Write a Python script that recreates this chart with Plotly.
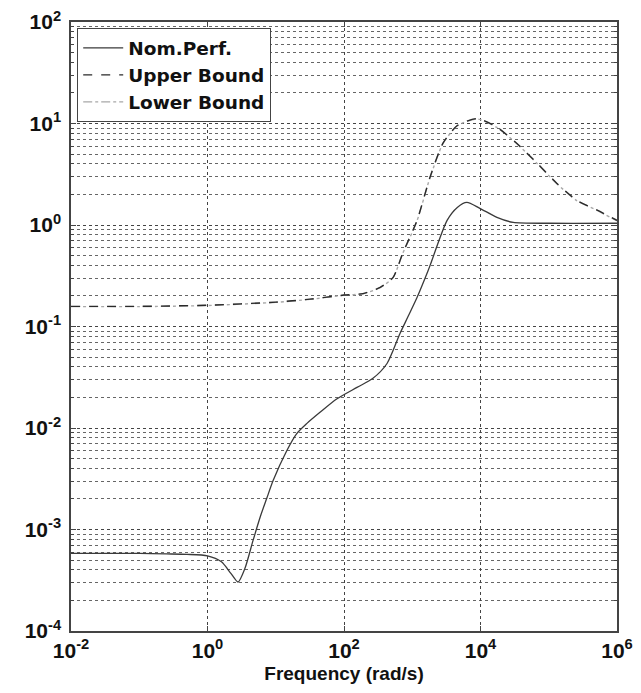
import plotly.graph_objects as go

# Nominal performance
nom_freq = [0.01, 0.1, 0.25, 0.5, 1.0, 1.6, 2.2, 2.8, 3.55, 4.64, 6.03, 7.41, 9.12, 14.5, 20.3,
            28.4, 44.5, 78, 155, 263, 427, 661, 871, 1175, 1550, 1820, 3240, 4570, 6310, 9770,
            17400, 30200, 100000, 1000000]
nom_val = [5.82e-4, 5.82e-4, 5.75e-4, 5.69e-4, 5.5e-4, 4.8e-4, 3.7e-4, 3.04e-4, 4.17e-4, 7.76e-4,
           1.38e-3, 2.04e-3, 3.02e-3, 5.97e-3, 8.8e-3, 0.01104, 0.01426, 0.0193, 0.0251, 0.0307,
           0.0432, 0.0853, 0.126, 0.193, 0.302, 0.398, 1.11, 1.49, 1.67, 1.46, 1.19, 1.06,
           1.04, 1.04]

# Upper bound
ub_freq = [0.01, 0.1, 1, 10, 31.6, 100, 190, 339, 525, 724, 1175, 1820, 2820, 4570, 8910,
           17400, 33900, 67600, 131800, 257000, 513000, 1000000]
ub_val = [0.158, 0.158, 0.162, 0.174, 0.186, 0.204, 0.211, 0.243, 0.305, 0.525, 1.11, 2.95,
          6.4, 9.55, 11.2, 9.2, 6.4, 4.06, 2.57, 1.75, 1.40, 1.11]

# Lower bound
lb_freq = [0.01, 0.1, 1, 10, 31.6, 100, 190, 339, 525, 724, 1175, 1820, 2820, 4570, 8910,
           17400, 33900, 67600, 131800, 257000, 513000, 1000000]
lb_val = [0.157, 0.157, 0.161, 0.173, 0.185, 0.203, 0.210, 0.242, 0.304, 0.523, 1.10, 2.93,
          6.35, 9.5, 11.1, 9.15, 6.35, 4.03, 2.55, 1.74, 1.39, 1.10]

x_ticks = [1e-2, 1e0, 1e2, 1e4, 1e6]
x_labels = ["10<sup>-2</sup>", "10<sup>0</sup>", "10<sup>2</sup>", "10<sup>4</sup>", "10<sup>6</sup>"]
y_ticks = [1e-4, 1e-3, 1e-2, 1e-1, 1e0, 1e1, 1e2]
y_labels = ["10<sup>-4</sup>", "10<sup>-3</sup>", "10<sup>-2</sup>", "10<sup>-1</sup>",
            "10<sup>0</sup>", "10<sup>1</sup>", "10<sup>2</sup>"]

font_family = "Liberation Sans, Arial, sans-serif"
legend_family = "DejaVu Sans, Liberation Sans, sans-serif"

fig = go.Figure()
fig.add_trace(go.Scatter(x=nom_freq, y=nom_val, mode="lines", name="Nom.Perf.", legendrank=1,
                         line=dict(color="#3a3a3a", width=1.3, shape="spline", smoothing=0.7)))
fig.add_trace(go.Scatter(x=lb_freq, y=lb_val, mode="lines", name="Lower Bound", legendrank=3,
                         line=dict(color="#a8a8a8", width=1.4, dash="dashdot", shape="spline", smoothing=0.6)))
fig.add_trace(go.Scatter(x=ub_freq, y=ub_val, mode="lines", name="Upper Bound", legendrank=2,
                         line=dict(color="#2a2a2a", width=1.4, dash="dash", shape="spline", smoothing=0.6)))

# page body has an 8px margin; size the figure so the plot area lands where the reference has it
fig.update_layout(
    width=633, height=685,
    margin=dict(l=63, r=24, t=14, b=62, autoexpand=False),
    paper_bgcolor="white", plot_bgcolor="white",
    font=dict(family=font_family, size=20, color="#111", weight="bold"),
    showlegend=True,
    legend=dict(x=0.011, y=0.99, xanchor="left", yanchor="top",
                bgcolor="white", bordercolor="#444", borderwidth=1.2,
                font=dict(size=18.5, family=legend_family, color="#111", weight="bold"),
                traceorder="normal", itemwidth=40, tracegroupgap=0),
)
fig.update_xaxes(
    type="log", range=[-2, 6],
    tickvals=x_ticks, ticktext=x_labels,
    showgrid=True, gridcolor="#444", griddash="dot", gridwidth=1,
    showline=True, linecolor="#444", linewidth=1.5, mirror="ticks",
    ticks="inside", ticklen=5, tickcolor="#444",
    tickfont=dict(size=21, family=font_family, weight="bold"),
    ticklabeloverflow="allow",
    title=dict(text="Frequency (rad/s)", font=dict(size=19, family=font_family, weight="bold"), standoff=6),
    zeroline=False, automargin=False,
)
fig.update_yaxes(
    type="log", range=[-4, 2],
    tickvals=y_ticks, ticktext=y_labels,
    showgrid=True, gridcolor="#444", griddash="dot", gridwidth=1,
    minor=dict(dtick="D1", showgrid=True, gridcolor="#666", griddash="dot", gridwidth=1,
               ticks="inside", ticklen=3, tickcolor="#444"),
    showline=True, linecolor="#444", linewidth=1.5, mirror="ticks",
    ticks="inside", ticklen=5, tickcolor="#444",
    tickfont=dict(size=21, family=font_family, weight="bold"),
    ticklabeloverflow="allow", ticklabelstandoff=4,
    zeroline=False, automargin=False,
)

fig.write_html("out.html")
